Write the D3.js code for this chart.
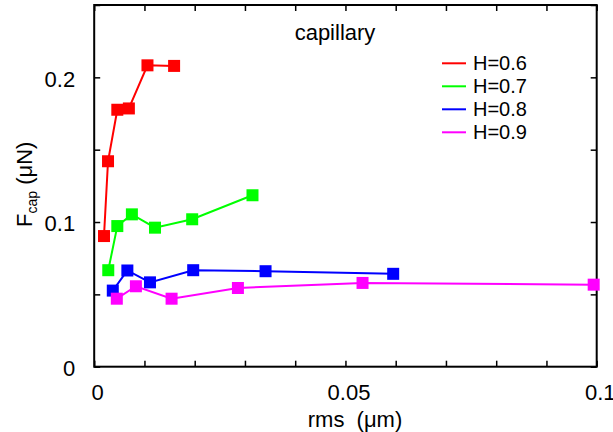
<!DOCTYPE html>
<html><head><meta charset="utf-8">
<script src="https://cdn.jsdelivr.net/npm/d3@7"></script>
<style>body{margin:0;background:#fff}svg{display:block}text{font-family:"Liberation Sans",Arial,sans-serif;fill:#000}</style>
</head><body>
<script>
const seriesNames = ["H=0.6","H=0.7","H=0.8","H=0.9"];
const seriesColors = ["#ff0000","#00ff00","#0000ff","#ff00ff"];
const rmsH06 = [0.00195,0.00275,0.0046,0.0069,0.0106,0.0159];
const fcapH06 = [0.0903,0.142,0.1776,0.1785,0.2083,0.2079];
const rmsH07 = [0.0028,0.0046,0.0075,0.0121,0.0195,0.0315];
const fcapH07 = [0.0667,0.0972,0.1053,0.0961,0.1019,0.1185];
const rmsH08 = [0.0037,0.0066,0.0111,0.0197,0.0341,0.0595];
const fcapH08 = [0.0526,0.0665,0.0583,0.0667,0.066,0.0642];
const rmsH09 = [0.0045,0.0083,0.0154,0.0286,0.0534,0.0994];
const fcapH09 = [0.047,0.0556,0.047,0.0544,0.0579,0.0567];
const xTicks = [0,0.01,0.02,0.03,0.04,0.05,0.06,0.07,0.08,0.09,0.1];
const xTickLabels = {0:"0",0.05:"0.05",0.1:"0.1"};
const yTicks = [0,0.05,0.1,0.15,0.2,0.25];
const yTickLabels = {0:"0",0.1:"0.1",0.2:"0.2"};
const titleText = "capillary";

const W=613,H=432, L=94.2, R=596.7, T=5, B=366.7;
const svg=d3.select("body").append("svg").attr("width",W).attr("height",H);
const x=d3.scaleLinear().domain([0,0.1]).range([L,R]);
const y=d3.scaleLinear().domain([0,0.25]).range([B,T]);

const allX=[rmsH06,rmsH07,rmsH08,rmsH09], allY=[fcapH06,fcapH07,fcapH08,fcapH09];
const data=seriesNames.map((n,i)=>({name:n,color:seriesColors[i],pts:allX[i].map((v,j)=>[v,allY[i][j]])}));

// axes with inward ticks
const tl=6;
const fmtX=d=>xTickLabels[+d.toFixed(3)]||"";
const fmtY=d=>yTickLabels[+d.toFixed(3)]||"";
const gB=svg.append("g").attr("transform",`translate(0,${B})`).call(d3.axisBottom(x).tickValues(xTicks).tickSizeInner(-tl).tickSizeOuter(0).tickPadding(18).tickFormat(fmtX));
const gT=svg.append("g").attr("transform",`translate(0,${T})`).call(d3.axisTop(x).tickValues(xTicks).tickSizeInner(-tl).tickSizeOuter(0).tickFormat(""));
const gL=svg.append("g").attr("transform",`translate(${L},0)`).call(d3.axisLeft(y).tickValues(yTicks).tickSizeInner(-tl).tickSizeOuter(0).tickPadding(19).tickFormat(fmtY));
const gR=svg.append("g").attr("transform",`translate(${R},0)`).call(d3.axisRight(y).tickValues(yTicks).tickSizeInner(-tl).tickSizeOuter(0).tickFormat(""));
[gB,gT,gL,gR].forEach(g=>{g.select(".domain").remove();g.selectAll("line").attr("stroke","#000").attr("stroke-width",1.5);g.selectAll("text").style("font-size","22px").attr("fill","#000");});
gB.selectAll("text").attr("dx",3);
gL.selectAll("text").attr("dy","0.4em");
svg.append("rect").attr("x",L).attr("y",T).attr("width",R-L).attr("height",B-T).attr("fill","none").attr("stroke","#000").attr("stroke-width",2);

// series
const line=d3.line().x(d=>x(d[0])).y(d=>y(d[1]));
const ms=12;
data.forEach(s=>{
  const g=svg.append("g");
  g.append("path").attr("d",line(s.pts)).attr("fill","none").attr("stroke",s.color).attr("stroke-width",2);
  g.selectAll("rect").data(s.pts).join("rect").attr("x",d=>x(d[0])-ms/2).attr("y",d=>y(d[1])-ms/2).attr("width",ms).attr("height",ms).attr("fill",s.color);
});

// title
svg.append("text").attr("x",335).attr("y",40).attr("text-anchor","middle").style("font-size","22px").text(titleText);

// legend
const lg=svg.append("g");
data.forEach((s,i)=>{
  const yy=63.3+i*23;
  lg.append("line").attr("x1",442).attr("x2",466).attr("y1",yy).attr("y2",yy).attr("stroke",s.color).attr("stroke-width",2);
  lg.append("text").attr("x",473).attr("y",yy+7).style("font-size",  "20px").text(s.name);
});

// axis labels
svg.append("text").attr("x",355).attr("y",427).attr("text-anchor","middle").style("font-size","22px").style("white-space","pre").text("rms \u00a0(μm)");
const yl=svg.append("text").attr("transform","translate(32,227) rotate(-90)").style("font-size","22px");
yl.append("tspan").text("F");
yl.append("tspan").attr("dy",5).style("font-size","14px").text("cap");
yl.append("tspan").attr("dy",-5).text(" (μN)");
</script>
</body></html>
